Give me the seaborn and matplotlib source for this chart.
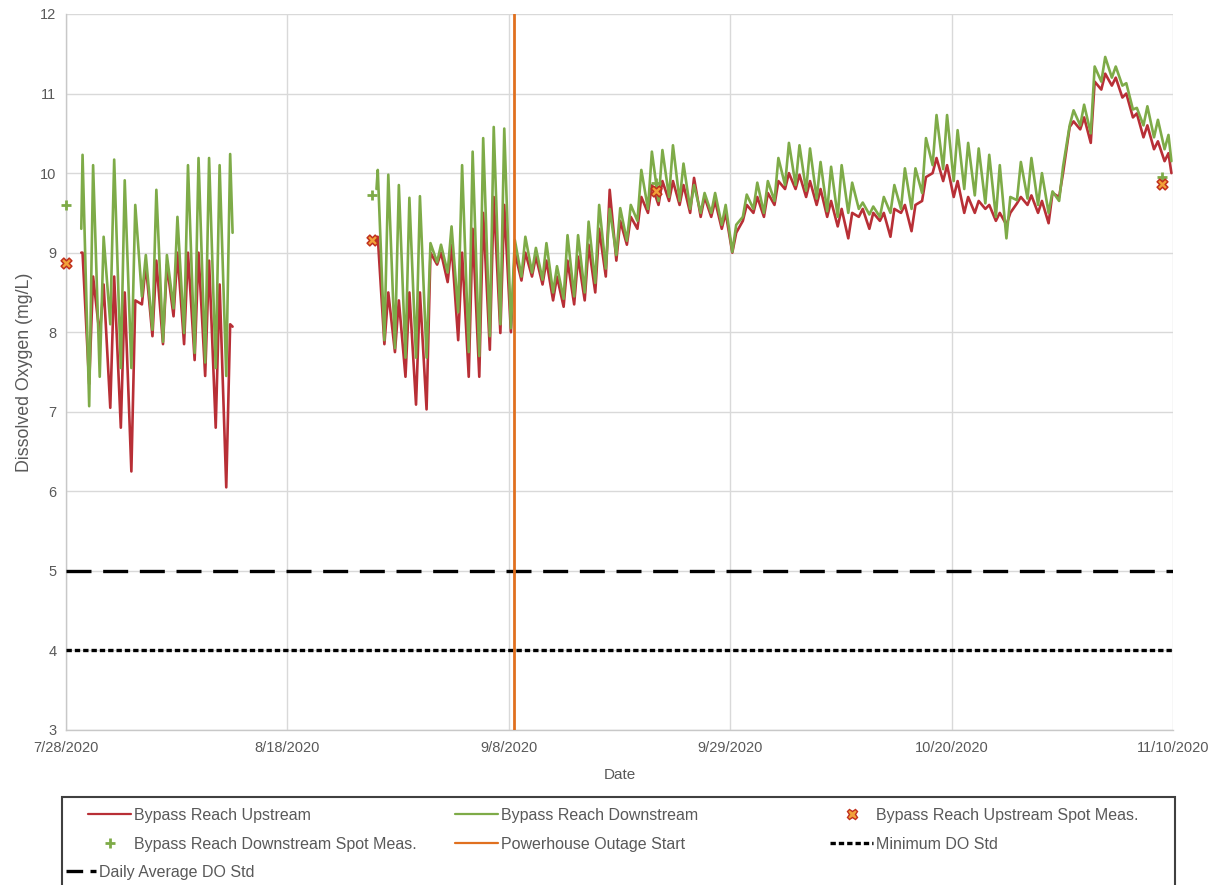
import numpy as np
import pandas as pd
import matplotlib
matplotlib.use("Agg")
import matplotlib.pyplot as plt
import matplotlib.dates as mdates
from matplotlib.ticker import FixedLocator, FuncFormatter
from matplotlib.lines import Line2D
from matplotlib.patches import Rectangle
import seaborn as sns

# ---------------- data ----------------
start_date = pd.Timestamp("2020-07-28")

# Segment 1 (7/29 - 8/12): daily peaks (afternoon) and troughs (early morning)
seg1_first_day = 1
seg1_start = (1.45, 9.30, 9.00)          # day, downstream, upstream
seg1_end = (15.80, 9.25, 8.07)
seg1_down_peaks = [10.23, 10.10, 9.20, 10.17, 9.91, 9.60, 8.97, 9.79, 8.97, 9.45,
                   10.10, 10.19, 10.19, 10.10, 10.24]
seg1_down_troughs = [7.07, 7.44, 8.10, 7.55, 7.55, 8.45, 8.03, 7.88, 8.30, 7.99,
                     7.74, 7.62, 7.55, 7.45]
seg1_up_peaks = [9.00, 8.70, 8.60, 8.70, 8.50, 8.40, 8.85, 8.90, 8.85, 9.00,
                 9.00, 9.00, 8.90, 8.60, 8.10]
seg1_up_troughs = [7.35, 7.95, 7.05, 6.80, 6.25, 8.35, 7.95, 7.85, 8.20, 7.85,
                   7.65, 7.45, 6.80, 6.05]

# Segment 2 (8/26 - 11/9)
seg2_first_day = 29
seg2_start = (29.45, 9.80, 9.15)
seg2_end = (104.85, 10.15, 10.00)
seg2_down_peaks = [10.04, 9.98, 9.85, 9.69, 9.71, 9.12, 9.10, 9.33, 10.10, 10.27,
                   10.44, 10.58, 10.56,
                   9.16, 9.20, 9.06, 9.12, 8.83, 9.22, 9.22, 9.39, 9.60, 9.55,
                   9.56, 9.60, 10.04, 10.27, 10.29, 10.35, 10.12, 9.85, 9.75, 9.75,
                   9.60, 9.35,
                   9.73, 9.88, 9.90, 10.19, 10.38, 10.35, 10.31, 10.14, 10.08, 10.10,
                   9.88, 9.63, 9.58, 9.70, 9.85, 10.06, 10.06, 10.44, 10.73, 10.73,
                   10.54, 10.38, 10.31, 10.23, 10.10, 9.70, 10.14, 10.19, 10.00, 9.77,
                   10.08, 10.79, 10.86, 11.34, 11.46, 11.34, 11.13, 10.82, 10.84, 10.67,
                   10.48]
seg2_down_troughs = [7.90, 7.80, 7.68, 7.68, 7.68, 8.88, 8.75, 8.25, 7.75, 7.70,
                     7.95, 8.10,
                     8.05, 8.70, 8.75, 8.66, 8.50, 8.42, 8.45, 8.50, 8.62, 8.80,
                     8.97, 9.15, 9.40, 9.55, 9.65, 9.70, 9.65, 9.55, 9.50, 9.50,
                     9.35, 9.01,
                     9.45, 9.55, 9.50, 9.65, 9.85, 9.85, 9.78, 9.68, 9.52, 9.45,
                     9.50, 9.55, 9.48, 9.45, 9.50, 9.55, 9.55, 9.75, 10.10, 10.05,
                     9.90, 9.80, 9.72, 9.62, 9.45, 9.18, 9.66, 9.68, 9.60, 9.50,
                     9.65, 10.60, 10.60, 10.50, 11.15, 11.20, 11.10, 10.80, 10.60, 10.45,
                     10.30]
seg2_up_peaks = [9.20, 8.50, 8.40, 8.50, 8.50, 9.00, 9.00, 9.10, 9.00, 9.30,
                 9.50, 9.70, 9.60,
                 9.00, 9.00, 8.95, 8.90, 8.70, 8.90, 8.95, 9.10, 9.30, 9.79,
                 9.40, 9.45, 9.70, 9.85, 9.90, 9.90, 9.85, 9.94, 9.70, 9.65,
                 9.50, 9.25,
                 9.60, 9.70, 9.75, 9.90, 10.00, 9.98, 9.90, 9.80, 9.65, 9.55,
                 9.50, 9.55, 9.50, 9.50, 9.55, 9.60, 9.60, 9.95, 10.19, 10.10,
                 9.90, 9.70, 9.65, 9.60, 9.50, 9.50, 9.70, 9.72, 9.65, 9.75,
                 10.00, 10.65, 10.70, 11.15, 11.25, 11.20, 11.00, 10.75, 10.60, 10.40,
                 10.25]
seg2_up_troughs = [7.85, 7.75, 7.44, 7.09, 7.03, 8.85, 8.63, 7.90, 7.44, 7.44,
                   7.78, 7.99,
                   8.00, 8.65, 8.70, 8.60, 8.40, 8.32, 8.35, 8.40, 8.50, 8.70,
                   8.90, 9.10, 9.30, 9.50, 9.60, 9.65, 9.60, 9.50, 9.45, 9.45,
                   9.30, 9.00,
                   9.40, 9.50, 9.45, 9.60, 9.80, 9.80, 9.70, 9.60, 9.45, 9.33,
                   9.18, 9.45, 9.30, 9.40, 9.20, 9.50, 9.27, 9.65, 10.00, 9.90,
                   9.70, 9.50, 9.50, 9.55, 9.40, 9.35, 9.62, 9.60, 9.50, 9.37,
                   9.70, 10.58, 10.55, 10.38, 11.05, 11.10, 10.95, 10.70, 10.45, 10.30,
                   10.15]

# Spot measurements
spot_dates = ["2020-07-28", "2020-08-26", "2020-09-22", "2020-11-09"]
up_spot_vals = [8.87, 9.16, 9.78, 9.86]
down_spot_vals = [9.60, 9.73, 9.88, 9.95]

outage_date = pd.Timestamp("2020-09-08 12:00")
daily_avg_do_std = 5
minimum_do_std = 4

x_tick_dates = ["2020-07-28", "2020-08-18", "2020-09-08", "2020-09-29",
                "2020-10-20", "2020-11-10"]
y_ticks = [3, 4, 5, 6, 7, 8, 9, 10, 11, 12]

UP = "Bypass Reach Upstream"
DOWN = "Bypass Reach Downstream"
UP_SPOT = "Bypass Reach Upstream Spot Meas."
DOWN_SPOT = "Bypass Reach Downstream Spot Meas."
OUTAGE = "Powerhouse Outage Start"
MIN_STD = "Minimum DO Std"
AVG_STD = "Daily Average DO Std"


def build_segment(seg_id, first_day, start, end, dpk, dtr, upk, utr):
    days, dv, uv = [start[0]], [start[1]], [start[2]]
    for i in range(len(dpk)):
        d = first_day + i
        if i > 0:
            days.append(d + 0.2)
            dv.append(dtr[i - 1])
            uv.append(utr[i - 1])
        days.append(d + 0.57)
        dv.append(dpk[i])
        uv.append(upk[i])
    days.append(end[0]); dv.append(end[1]); uv.append(end[2])
    t = start_date + pd.to_timedelta(np.array(days), unit="D")
    a = pd.DataFrame({"date": t, "value": uv, "series": UP, "segment": seg_id})
    b = pd.DataFrame({"date": t, "value": dv, "series": DOWN, "segment": seg_id})
    return pd.concat([a, b])


df = pd.concat([
    build_segment(1, seg1_first_day, seg1_start, seg1_end, seg1_down_peaks,
                  seg1_down_troughs, seg1_up_peaks, seg1_up_troughs),
    build_segment(2, seg2_first_day, seg2_start, seg2_end, seg2_down_peaks,
                  seg2_down_troughs, seg2_up_peaks, seg2_up_troughs),
], ignore_index=True)

spot = pd.DataFrame({"date": pd.to_datetime(spot_dates),
                     "up": up_spot_vals, "down": down_spot_vals})

# ---------------- styling ----------------
sns.set_theme(style="white")
plt.rcParams["font.family"] = ["Liberation Sans", "DejaVu Sans"]

RED = "#b82f36"
GREEN = "#7eab48"
ORANGE = "#e0701f"
XFACE = "#f2a23a"
XEDGE = "#c0301e"
TXT = "#595959"
GRID = "#d9d9d9"
AVG_DASH = (7.5, 3.5)
AVG_DASH_LEG = (5.0, 2.2)
MIN_DASH = (1.6, 0.9)

W, H = 1217, 885
fig = plt.figure(figsize=(W / 100, H / 100), dpi=100)
ax = fig.add_axes([66 / W, 1 - 730 / H, (1173 - 66) / W, (730 - 14) / H])

sns.lineplot(data=df, x="date", y="value", hue="series", hue_order=[UP, DOWN],
             units="segment", estimator=None, sort=False,
             palette={UP: RED, DOWN: GREEN}, linewidth=1.9, legend=False, ax=ax)

ax.axvline(outage_date, color=ORANGE, lw=2.0, zorder=4)
ax.axhline(daily_avg_do_std, color="black", lw=2.4, dashes=AVG_DASH, zorder=3)
ax.axhline(minimum_do_std, color="black", lw=2.4, dashes=MIN_DASH, zorder=3)

sns.scatterplot(data=spot, x="date", y="down", marker="+", s=55, color=GREEN,
                linewidth=2.0, ax=ax, zorder=6, clip_on=False)
sns.scatterplot(data=spot, x="date", y="up", marker="X", s=60, color=XFACE,
                edgecolor=XEDGE, linewidth=1.1, ax=ax, zorder=7, clip_on=False)

# axes
ax.set_xlim(start_date, pd.Timestamp("2020-11-10"))
ax.set_ylim(3, 12)
ax.xaxis.set_major_locator(FixedLocator(mdates.date2num(pd.to_datetime(x_tick_dates))))
ax.xaxis.set_major_formatter(FuncFormatter(
    lambda v, p: (lambda d: f"{d.month}/{d.day}/{d.year}")(mdates.num2date(v))))
ax.set_yticks(y_ticks)
ax.grid(True, color=GRID, lw=1.0)
ax.set_axisbelow(True)
for s in ["top", "right"]:
    ax.spines[s].set_visible(False)
for s in ["left", "bottom"]:
    ax.spines[s].set_color("#c8c8c8")
    ax.spines[s].set_linewidth(1.0)
ax.tick_params(axis="both", length=0, labelsize=10.5, labelcolor=TXT)
ax.tick_params(axis="x", pad=8)
ax.tick_params(axis="y", pad=7)
ax.set_xlabel("Date", fontsize=11, color=TXT, labelpad=9)
ax.set_ylabel("Dissolved Oxygen (mg/L)", fontsize=12.8, color=TXT, labelpad=5)

# legend: frame + three columns placed like the reference
fig.patches.append(Rectangle((62 / W, -0.01), (1175 - 62) / W, (H - 797) / H + 0.01,
                             transform=fig.transFigure, fill=False,
                             edgecolor="#404040", lw=1.5, zorder=10))

h_up = Line2D([], [], color=RED, lw=1.6)
h_down = Line2D([], [], color=GREEN, lw=1.6)
h_upspot = Line2D([], [], ls="none", marker="X", markersize=7.5,
                  markerfacecolor=XFACE, markeredgecolor=XEDGE, markeredgewidth=1.0)
h_downspot = Line2D([], [], ls="none", marker="+", markersize=7,
                    markeredgecolor=GREEN, markeredgewidth=2.0)
h_out = Line2D([], [], color=ORANGE, lw=1.6)
h_min = Line2D([], [], color="black", lw=2.4, dashes=MIN_DASH)
h_avg = Line2D([], [], color="black", lw=2.4, dashes=AVG_DASH_LEG)

LEG_FS = 11.5
row_top = 1 - 808 / H
common = dict(loc="upper left", frameon=False, fontsize=LEG_FS, borderpad=0,
              borderaxespad=0, handletextpad=0.2, labelspacing=0.87,
              labelcolor=TXT)
fig.legend([h_up, h_downspot], [UP, DOWN_SPOT],
           bbox_to_anchor=(88 / W, row_top), handlelength=2.7, **common)
fig.legend([h_down, h_out], [DOWN, OUTAGE],
           bbox_to_anchor=(455 / W, row_top), handlelength=2.7, **common)
fig.legend([h_upspot, h_min], [UP_SPOT, MIN_STD],
           bbox_to_anchor=(830 / W, row_top), handlelength=2.7, **common)
fig.legend([h_avg], [AVG_STD],
           bbox_to_anchor=(66 / W, 1 - 865 / H), handlelength=1.85, **common)

fig.savefig("out.png", dpi=100)
